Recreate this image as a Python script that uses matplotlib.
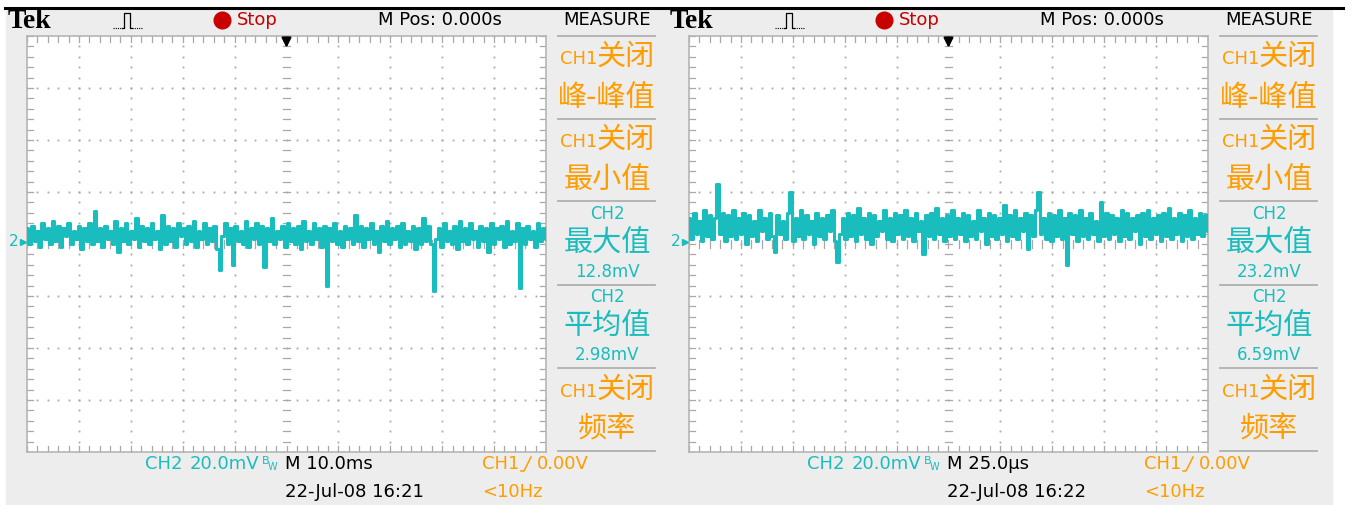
import numpy as np
import matplotlib.pyplot as plt
from matplotlib.patches import Rectangle
from matplotlib.lines import Line2D

# CH2 samples in mV (left: 10.0ms/div, right: 25.0us/div)
trace_left = [
    6, 0, 7, 1, 5, -1, 8, 2, 6, 0, 9, 1, 7, -1, 6, 3, 8, 0, 5, 2,
    7, -2, 6, 1, 8, 0, 12.8, 1, 6, -1, 7, 2, 5, 0, 9, -3, 6, 1, 8, 0,
    5, 2, 10, -1, 7, 1, 6, 0, 8, 2, 5, -2, 11, 0, 7, 1, 6, -1, 8, 3,
    6, 0, 7, 1, 9, -1, 5, 2, 8, 0, 6, 1, 7, -2, -10, 3, 8, 0, 6, -8,
    7, 1, 5, 0, 9, -1, 6, 2, 8, 0, 7, -9, 6, 1, 10, 0, 5, 2, 7, -1,
    8, 1, 6, 0, 7, -2, 9, 1, 5, 0, 8, 2, 6, -1, 7, -16, 6, 1, 8, 0,
    5, -1, 7, 2, 6, 0, 11, 1, 7, -1, 6, 2, 8, 0, 5, -3, 7, 1, 9, 0,
    6, 2, 7, -1, 8, 0, 5, 1, 7, -2, 6, 0, 10, 1, 7, 0, -18, 2, 6, -1,
    8, 1, 5, 0, 7, -2, 9, 1, 6, 0, 8, 2, 5, -1, 7, 1, 6, -3, 8, 0,
    6, 2, 7, -1, 9, 0, 5, 1, 8, -17, 6, 0, 7, 2, 5, -1, 8, 1, 6, 2,
]
trace_right = [
    10, 2, 12, 4, 9, 1, 13, 3, 11, 2, 10, 23, 4, 12, 1, 11, 3, 13, 2, 10,
    4, 12, 0, 11, 3, 9, 1, 13, 5, 10, 2, 12, 3, -3, 11, 4, 9, 2, 12, 20,
    1, 10, 3, 13, 2, 11, 4, 9, 0, 12, 3, 10, 2, 11, 5, 13, 1, -7, 4, 10,
    2, 12, 3, 11, 1, 14, 4, 10, 2, 12, 0, 11, 3, 9, 5, 13, 2, 10, 1, 12,
    4, 11, 2, 13, 3, 10, 1, 12, 5, 9, -4, 11, 3, 12, 2, 14, 4, 10, 1, 11,
    3, 13, 2, 10, 4, 12, 1, 11, 3, 9, 2, 13, 5, 10, 0, 12, 3, 11, 2, 10,
    4, 15, 1, 11, 3, 13, 2, 10, 5, 12, -2, 11, 3, 13, 20, 4, 10, 2, 12, 1,
    11, 3, 13, 2, 10, -8, 12, 4, 11, 1, 13, 3, 10, 2, 12, 4, 9, 1, 16, 3,
    12, 2, 11, 4, 10, 1, 13, 3, 12, 2, 10, 5, 11, 0, 12, 3, 13, 2, 10, 4,
    11, 1, 12, 3, 14, 2, 10, 4, 12, 1, 11, 3, 13, 2, 10, 4, 12, 3, 11, 5,
]
volts_per_div = 20.0
max_values = ["12.8mV", "23.2mV"]
mean_values = ["2.98mV", "6.59mV"]
time_bases = ["M 10.0ms", "M 25.0\u00b5s"]
timestamps = ["22-Jul-08 16:21", "22-Jul-08 16:22"]

W, H = 1355, 505
BG = '#ededed'
CYAN = '#19bdbd'
ORANGE = '#ff9d00'
GRID = '#a8a8a8'
LAT = ['DejaVu Sans']
CJK = ['Noto Sans CJK SC', 'DejaVu Sans']

fig = plt.figure(figsize=(W / 100, H / 100), dpi=100)


def fx(x):
    return x / W


def fy(y):
    return 1 - y / H


def txt(x, y, s, ha='left', size=12, color='k', family=LAT, **kw):
    fig.text(fx(x), fy(y), s, ha=ha, va='center', fontsize=size,
             color=color, family=family, **kw)


def line(xs, ys, **kw):
    fig.lines.append(Line2D([fx(v) for v in xs], [fy(v) for v in ys],
                            transform=fig.transFigure, **kw))


# grey screen background and top rule
fig.patches.append(Rectangle((fx(6), 0), fx(1332 - 6), (505 - 10) / H,
                             transform=fig.transFigure, color=BG, zorder=-10))
line([5, 1343], [8, 8], color='k', lw=2.2)


def draw_grid(ax):
    minor = np.arange(0, 10.01, 0.2)
    vminor = np.arange(-4, 4.01, 0.2)
    for gx in range(1, 10):
        if gx == 5:
            continue
        ax.plot([gx] * len(vminor), vminor, ls='none', marker='s', ms=1.3,
                color=GRID, mew=0)
    for gy in range(-3, 4):
        if gy == 0:
            continue
        ax.plot(minor, [gy] * len(minor), ls='none', marker='s', ms=1.3,
                color=GRID, mew=0)
    # centre cross with small ticks
    for v in vminor:
        ax.plot([4.93, 5.07], [v, v], color=GRID, lw=0.9)
    for v in minor:
        ax.plot([v, v], [-0.07, 0.07], color=GRID, lw=0.9)
    # edge ticks
    for v in minor:
        ax.plot([v, v], [3.88, 4], color=GRID, lw=0.9)
        ax.plot([v, v], [-4, -3.88], color=GRID, lw=0.9)
    for v in vminor:
        ax.plot([0, 0.12], [v, v], color=GRID, lw=0.9)
        ax.plot([9.88, 10], [v, v], color=GRID, lw=0.9)


def draw_screen(dx, trace, vmax, vmean, tbase, stamp):
    ax = fig.add_axes([fx(27 + dx), fy(452), 519 / W, 416 / H])
    ax.set_xlim(0, 10)
    ax.set_ylim(-4, 4)
    ax.set_xticks([])
    ax.set_yticks([])
    for s in ax.spines.values():
        s.set_color('#b5b5b5')
        s.set_linewidth(1.2)
    draw_grid(ax)
    y = np.array(trace) / volts_per_div
    x = np.linspace(0, 10, len(y))
    ax.plot(x, y, color=CYAN, lw=2.2, drawstyle='steps-mid', zorder=5)
    ax.annotate('', xy=(5, 3.72), xytext=(5, 4.02),
                arrowprops=dict(arrowstyle='-|>', color='k', lw=1.6,
                                mutation_scale=14), annotation_clip=False)

    # channel ground marker
    txt(dx + 14, 242, '2', size=11, color=CYAN, family=LAT, ha='center')
    fig.lines.append(Line2D([fx(dx + 23)], [fy(242)], marker='>', ms=5,
                            color=CYAN, transform=fig.transFigure))

    # top status bar
    txt(dx + 8, 22, 'Tek', size=20, family=['Liberation Serif', 'DejaVu Serif'],
        weight='bold')
    line([dx + 113, dx + 122], [28, 28], color='k', lw=0.8, ls=(0, (1, 1)))
    line([dx + 122, dx + 124, dx + 124, dx + 130, dx + 130, dx + 132],
         [28, 28, 13, 13, 28, 28], color='k', lw=0.9)
    line([dx + 132, dx + 142], [28, 28], color='k', lw=0.8, ls=(0, (1, 1)))
    fig.lines.append(Line2D([fx(dx + 222)], [fy(20)], marker='o', ms=12,
                            color='#c80000', transform=fig.transFigure))
    txt(dx + 237, 20, 'Stop', size=13, color='#c80000')
    txt(dx + 378, 20, 'M Pos: 0.000s', size=13)
    txt(dx + 607, 20, 'MEASURE', size=13, ha='center')

    # measure panel
    for sy in [36, 119, 201, 285, 368, 451]:
        line([dx + 558, dx + 655], [sy, sy], color='#b0b0b0', lw=1.3)
    for cy in [57, 140, 390]:
        txt(dx + 597, cy + 2, 'CH1', size=13, color=ORANGE, ha='right')
        txt(dx + 597, cy, '关闭', size=21, color=ORANGE, family=CJK)
    txt(dx + 607, 98, '峰-峰值', size=21, color=ORANGE, family=CJK, ha='center')
    txt(dx + 607, 180, '最小值', size=21, color=ORANGE, family=CJK, ha='center')
    txt(dx + 607, 430, '频率', size=21, color=ORANGE, family=CJK, ha='center')
    txt(dx + 607, 214, 'CH2', size=12, color=CYAN, ha='center')
    txt(dx + 607, 244, '最大值', size=21, color=CYAN, family=CJK, ha='center')
    txt(dx + 607, 272, vmax, size=12, color=CYAN, ha='center')
    txt(dx + 607, 297, 'CH2', size=12, color=CYAN, ha='center')
    txt(dx + 607, 326, '平均值', size=21, color=CYAN, family=CJK, ha='center')
    txt(dx + 607, 355, vmean, size=12, color=CYAN, ha='center')

    # bottom status bar
    txt(dx + 145, 464, 'CH2', size=13, color=CYAN)
    txt(dx + 190, 464, '20.0mV', size=13, color=CYAN)
    txt(dx + 262, 461, 'B', size=8, color=CYAN)
    txt(dx + 268, 467, 'W', size=7, color=CYAN)
    txt(dx + 285, 464, tbase, size=13)
    txt(dx + 482, 464, 'CH1', size=13, color=ORANGE)
    line([dx + 521, dx + 524, dx + 531], [471, 471, 457], color=ORANGE, lw=1.1)
    txt(dx + 537, 464, '0.00V', size=13, color=ORANGE)
    txt(dx + 285, 492, stamp, size=13)
    txt(dx + 482, 492, '<10Hz', size=13, color=ORANGE)


draw_screen(0, trace_left, max_values[0], mean_values[0], time_bases[0],
            timestamps[0])
draw_screen(662, trace_right, max_values[1], mean_values[1], time_bases[1],
            timestamps[1])

fig.savefig('out.png', dpi=100)
